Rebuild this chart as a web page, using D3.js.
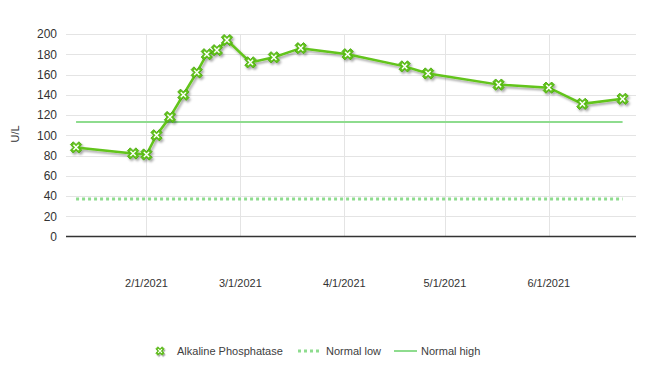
<!DOCTYPE html>
<html><head><meta charset="utf-8">
<script src="https://cdn.jsdelivr.net/npm/d3@7"></script>
<style>
body{margin:0;background:#fff}
svg{display:block;font-family:"Liberation Sans",Arial,sans-serif}
</style>
</head><body>
<svg id="c" width="658" height="372"></svg>
<script>
// ---- data ----
const dates = ["2021-01-11","2021-01-28","2021-02-01","2021-02-04","2021-02-08","2021-02-12","2021-02-16","2021-02-19","2021-02-22","2021-02-25","2021-03-04","2021-03-11","2021-03-19","2021-04-02","2021-04-19","2021-04-26","2021-05-17","2021-06-01","2021-06-11","2021-06-23"];
const values = [88,82,81,100,118,140,162,180,184,194,172,177,186,180,168,161,150,147,131,136];
const normalLow = 37;
const normalHigh = 113;
const yTicks = [0,20,40,60,80,100,120,140,160,180,200];
const xTickDates = ["2021-02-01","2021-03-01","2021-04-01","2021-05-01","2021-06-01"];
const xTickLabels = ["2/1/2021","3/1/2021","4/1/2021","5/1/2021","6/1/2021"];
const xDomain = ["2021-01-08","2021-06-27"];
const yLabel = "U/L";
const legendNames = ["Alkaline Phosphatase","Normal low","Normal high"];

// ---- layout ----
const L=66,R=636,T=34,B=236.5;
const parse=d3.timeParse("%Y-%m-%d");
const x=d3.scaleTime().domain(xDomain.map(parse)).range([L,R]);
const y=d3.scaleLinear().domain([0,200]).range([B,T]);
const svg=d3.select("#c");
const defs=svg.append("defs");
const f=defs.append("filter").attr("id","sh").attr("x","-20%").attr("y","-20%").attr("width","140%").attr("height","140%");
f.append("feDropShadow").attr("dx",1.5).attr("dy",2).attr("stdDeviation",0.9).attr("flood-color","#000").attr("flood-opacity",0.35);

const main="#62c41a", mainDark="#4aa810", light="#8edc8e";

// gridlines
svg.append("g").selectAll("line").data(yTicks.filter(d=>d>0)).join("line")
  .attr("x1",L).attr("x2",R).attr("y1",d=>Math.round(y(d))+0.5).attr("y2",d=>Math.round(y(d))+0.5)
  .attr("stroke","#e4e4e4").attr("stroke-width",1);
svg.append("g").selectAll("line").data(xTickDates.map(parse)).join("line")
  .attr("x1",d=>Math.round(x(d))+0.5).attr("x2",d=>Math.round(x(d))+0.5).attr("y1",T).attr("y2",B)
  .attr("stroke","#e4e4e4").attr("stroke-width",1);

// axis line
svg.append("line").attr("x1",L).attr("x2",R).attr("y1",B).attr("y2",B).attr("stroke","#333").attr("stroke-width",1.5);

// y tick labels
svg.append("g").selectAll("text").data(yTicks).join("text")
  .attr("x",57).attr("y",d=>y(d)).attr("dy","0.36em").attr("text-anchor","end")
  .attr("font-size",12).attr("fill","#333").text(d=>d);
// x tick labels
svg.append("g").selectAll("text").data(xTickDates).join("text")
  .attr("x",d=>x(parse(d))).attr("y",287).attr("text-anchor","middle")
  .attr("font-size",11).attr("fill","#333").text((d,i)=>xTickLabels[i]);
// y label
svg.append("text").attr("transform","translate(19,134) rotate(-90)").attr("text-anchor","middle")
  .attr("font-size",11).attr("fill","#333").text(yLabel);

const pts=dates.map((d,i)=>({d:parse(d),v:values[i]}));
const x0=x(pts[0].d), x1=x(pts[pts.length-1].d);

// normal lines
svg.append("line").attr("x1",x0).attr("x2",x1).attr("y1",y(normalLow)).attr("y2",y(normalLow))
  .attr("stroke",light).attr("stroke-width",3).attr("stroke-dasharray","3,3");
svg.append("line").attr("x1",x0).attr("x2",x1).attr("y1",y(normalHigh)).attr("y2",y(normalHigh))
  .attr("stroke",light).attr("stroke-width",2);

// series
const g=svg.append("g").attr("filter","url(#sh)");
g.append("path").datum(pts).attr("d",d3.line().x(d=>x(d.d)).y(d=>y(d.v)))
  .attr("fill","none").attr("stroke",main).attr("stroke-width",2.5);
const cross=d3.symbol().type(d3.symbolCross).size(80)();
function marker(sel){
  sel.append("path").attr("d",cross).attr("transform","rotate(45)")
    .attr("fill",main).attr("stroke",mainDark).attr("stroke-width",0.8);
  sel.append("path").attr("d","M-2.6,-2.6L2.6,2.6M-2.6,2.6L2.6,-2.6")
    .attr("stroke","#fff").attr("stroke-width",1.4).attr("fill","none");
}
g.selectAll("g.m").data(pts).join("g").attr("class","m")
  .attr("transform",d=>`translate(${x(d.d)},${y(d.v)})`).call(marker);

// legend
const lg=svg.append("g").attr("font-size",11).attr("fill","#404040");
const ly=351;
const lm=lg.append("g").attr("filter","url(#sh)").attr("transform",`translate(160,${ly}) scale(0.75)`);
marker(lm);
lg.append("text").attr("x",177).attr("y",ly).attr("dy","0.35em").text(legendNames[0]);
lg.append("line").attr("x1",298).attr("x2",321).attr("y1",ly).attr("y2",ly)
  .attr("stroke",light).attr("stroke-width",3).attr("stroke-dasharray","3,3");
lg.append("text").attr("x",326).attr("y",ly).attr("dy","0.35em").text(legendNames[1]);
lg.append("line").attr("x1",394).attr("x2",417).attr("y1",ly).attr("y2",ly)
  .attr("stroke",light).attr("stroke-width",2);
lg.append("text").attr("x",421).attr("y",ly).attr("dy","0.35em").text(legendNames[2]);
</script>
</body></html>
